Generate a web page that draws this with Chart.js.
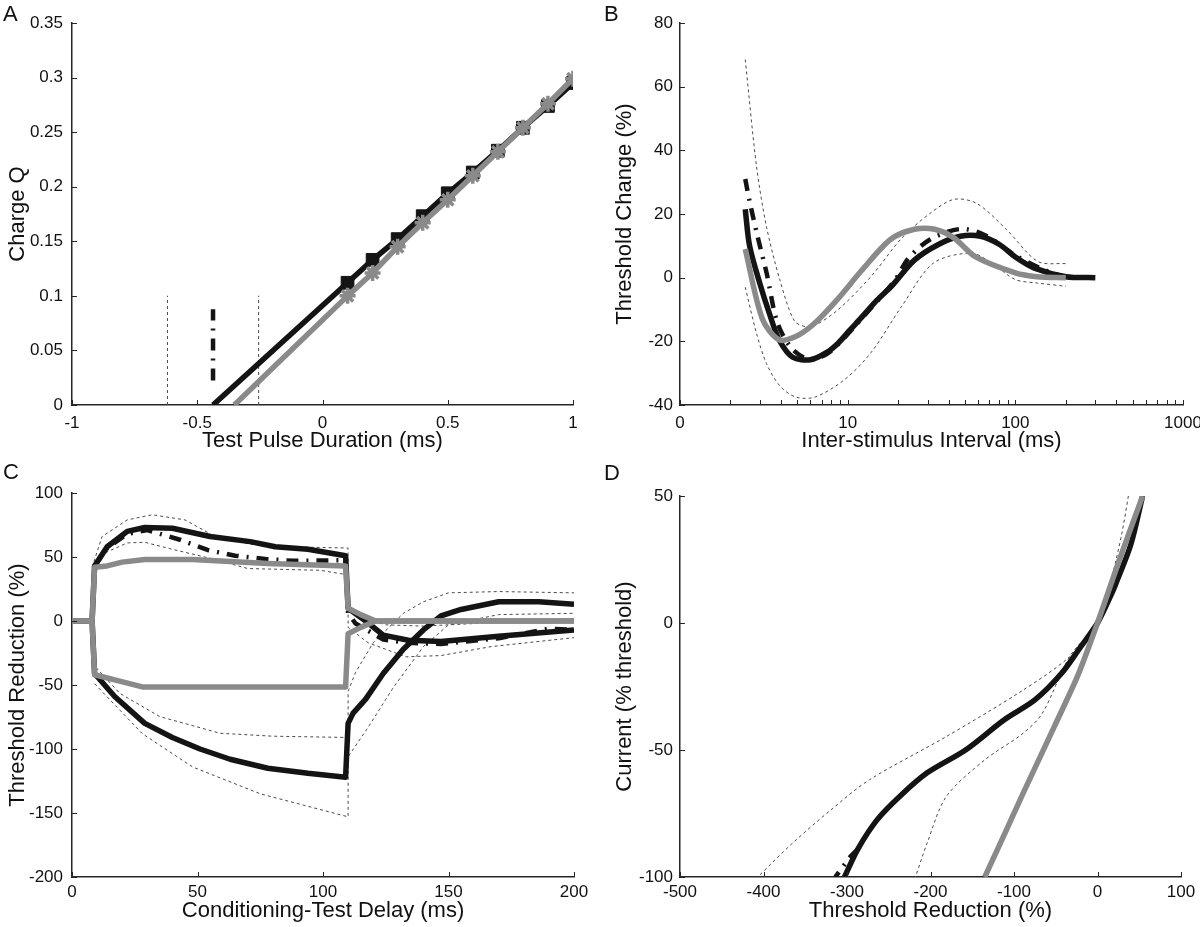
<!DOCTYPE html>
<html lang="en">
<head>
<meta charset="UTF-8">
<title>Threshold tracking</title>
<style>
  html, body { margin: 0; padding: 0; background: #fff; }
  #wrap { position: relative; width: 1200px; height: 927px; overflow: hidden; }
  canvas { position: absolute; }
  #cA { left: 0; top: 0; }
  #cB { left: 600px; top: 0; }
  #cC { left: 0; top: 460px; }
  #cD { left: 600px; top: 460px; }
</style>
<script src="https://cdn.jsdelivr.net/npm/chart.js"></script>
</head>
<body>
<div id="wrap">
  <canvas id="cA" width="600" height="460"></canvas>
  <canvas id="cB" width="600" height="460"></canvas>
  <canvas id="cC" width="600" height="467"></canvas>
  <canvas id="cD" width="600" height="467"></canvas>
</div>
<script>
// ---- A: charge vs test pulse duration ----
const durations = [0.1, 0.2, 0.3, 0.4, 0.5, 0.6, 0.7, 0.8, 0.9, 1.0];
const chargeBlack = [0.112, 0.133, 0.152, 0.173, 0.194, 0.213, 0.233, 0.254, 0.274, 0.295];
const chargeGray = [0.100, 0.121, 0.145, 0.167, 0.188, 0.210, 0.232, 0.254, 0.276, 0.299];
const interceptBlack = -0.437;
const interceptGray = -0.352;
const interceptCI = [-0.619, -0.255];
const interceptCIRange = [0, 0.1];
const interceptMarkRange = [0.0225, 0.0878];
const aTicksX = [-1, -0.5, 0, 0.5, 1];
const aLabelsX = ['-1', '-0.5', '0', '0.5', '1'];
const aTicksY = [0, 0.05, 0.1, 0.15, 0.2, 0.25, 0.3, 0.35];
const aLabelsY = ['0', '0.05', '0.1', '0.15', '0.2', '0.25', '0.3', '0.35'];

// ---- B: recovery cycle ----
const isiBlack = [2.45, 2.6, 3.0, 3.4, 3.9, 4.7, 6.0, 7.5, 8.8, 10.3, 12.1, 15, 18.4, 25, 35, 47, 62, 80, 100, 130, 200, 300];
const recBlack = [21.5, 10, -2, -11, -19.5, -25, -25.8, -23.5, -20.5, -16.5, -12.5, -7, -2.5, 5.5, 10.5, 13, 13, 10.5, 6.5, 3, 0.3, 0];
const isiBlackAlt = [2.45, 2.6, 2.9, 3.3, 3.8, 4.6, 5.8, 7.5, 9.5, 13, 19, 23, 31, 47, 65, 100, 140, 200];
const recBlackAlt = [31, 24, 13, 1, -14, -22, -25.5, -24, -19, -11, -1, 6, 12, 15.3, 13.5, 7, 3, 0];
const isiGray = [2.45, 3.1, 3.9, 4.9, 6.3, 8.8, 12, 18, 25, 33, 43, 58, 100, 135, 200];
const recGray = [9, -13, -19.5, -18.5, -14.5, -6.5, 2, 12, 15.2, 15.2, 12.5, 6.5, 1.5, 0.3, 0];
const isiUpper = [2.45, 2.86, 3.28, 3.94, 4.8, 5.7, 6.4, 8.8, 13.8, 21, 31, 43, 59, 89, 136, 200];
const recUpper = [68.5, 35, 16, -0.7, -13.5, -15.5, -15, -10, 0.4, 12.4, 20.2, 24.6, 23.3, 15, 5.1, 4.4];
const isiLower = [2.45, 2.86, 3.28, 3.94, 4.9, 6.4, 9.6, 13.8, 21, 32.5, 55, 73, 100, 136, 200];
const recLower = [-3, -17.5, -27, -34, -37.5, -37.5, -32, -23.5, -9, 4.6, 7.7, 4.4, -0.6, -1.7, -2.7];
const bTicksX = [1, 2, 3, 4, 5, 6, 7, 8, 9, 10, 20, 30, 40, 50, 60, 70, 80, 90, 100, 200, 300, 400, 500, 600, 700, 800, 900, 1000];
const bLabelsX = ['0', '', '', '', '', '', '', '', '', '10', '', '', '', '', '', '', '', '', '100', '', '', '', '', '', '', '', '', '1000'];
const bTicksY = [-40, -20, 0, 20, 40, 60, 80];

// ---- C: threshold electrotonus ----
const tGrayUp = [0, 8, 9, 14, 20, 29, 48, 78, 109, 110, 115, 121, 200];
const teGrayUp = [0, 0, 42, 43, 46, 48, 48, 45, 43, 10, 5, 0, 0];
const tGrayDn = [0, 8, 9, 19, 28, 109, 110, 115, 121, 200];
const teGrayDn = [0, 0, -42, -47, -51.5, -51.5, -10, -5, 0, 0];
const tBlackUp = [0, 8, 9, 14, 22, 29, 40, 55, 71, 81, 94, 109, 110, 117, 124, 134, 147, 170, 200];
const teBlackUp = [0, 0, 43, 58, 70, 73, 72.5, 66, 62, 58, 56, 51, 10, 0, -11, -15, -16, -12, -7];
const tBlackUpAlt = [9, 14, 22, 30, 43, 54, 65, 77, 88, 109, 110, 113, 124, 134, 147, 170, 190, 200];
const teBlackUpAlt = [43, 57, 68, 71, 63.5, 55.5, 51, 48.5, 47, 47.5, 6, -2, -14.5, -17, -18, -13.5, -6, -7];
const tBlackDn = [0, 8, 9, 17, 29, 40, 51, 63, 78, 94, 109, 110, 112, 117, 124, 132, 140, 147, 155, 170, 186, 200];
const teBlackDn = [0, 0, -41, -59, -80, -91, -100, -108, -115, -119, -122, -80, -72, -61, -41, -22, -7, 4, 9, 15, 15, 13];
const tCiUpHi = [8, 12, 22, 32, 45, 57, 71, 86, 110, 110, 115, 125, 140, 160, 200];
const teCiUpHi = [42, 66, 79, 83, 79, 66, 60, 58, 57, 12, 3, -3, -4, -2, 2];
const tCiUpLo = [9, 14, 22, 29, 40, 55, 70, 99, 110, 110, 118, 133, 147, 167, 200];
const teCiUpLo = [42, 54, 61, 61.5, 56, 49, 41, 39.6, 36, -5, -17, -28, -27, -20, -13];
const tCiDnHi = [8, 19, 35, 59, 80, 110, 110, 113, 120, 132, 140, 150, 170, 200];
const teCiDnHi = [-33, -56.5, -74.7, -87.7, -90, -91, -55, -40, -17, 6, 15, 22, 23, 22];
const tCiDnLo = [9, 28, 48, 75, 110, 110, 118, 128, 140, 150, 170, 200];
const teCiDnLo = [-49, -88, -114, -135, -153, -106, -83, -52, -20, -3, 5, 6];
const cTicksX = [0, 50, 100, 150, 200];
const cTicksY = [-200, -150, -100, -50, 0, 50, 100];

// ---- D: current-threshold relationship ----
const redBlack = [54, 40, 22, 17, 0, -20, -43, -75, -112, -158, -204, -236, -264, -287, -303];
const curBlack = [50, 31, 15.5, 11.6, 0, -9.3, -19.8, -30.3, -38.2, -50, -59, -68, -77.5, -89, -100];
const redBlackAlt = [-287, -296, -314];
const curBlackAlt = [-89, -92, -100];
const redGray = [54, 26, 0, -24, -52, -89, -107, -135];
const curGray = [50, 24.7, 0, -21, -41, -67, -80, -100];
const redCiOuter = [37, 29, 17, 0, -33.5, -89, -181, -273, -319, -365, -407];
const curCiOuter = [50, 35, 18, 0, -13.3, -26.4, -44.7, -61.7, -73.5, -86.6, -100];
const redCiInner = [56, 35, 12, 0, -33.5, -66, -89, -135, -181, -204, -218];
const curCiInner = [50, 25, 10, 0, -13.3, -35.5, -43.4, -53.9, -68.3, -86.6, -100];
const dTicksX = [-500, -400, -300, -200, -100, 0, 100];
const dTicksY = [-100, -50, 0, 50];

const BLACK = '#141414';
const GRAY = '#8a8a8a';
const AXIS = '#262626';
const CI = '#4a4a4a';
const FONT = '"Liberation Sans", Arial, Helvetica, sans-serif';

Chart.defaults.font.family = FONT;
Chart.defaults.color = '#111';

function pts(xs, ys) {
  return xs.map((x, i) => ({ x: x, y: ys[i] }));
}

function line(xs, ys, color, width, dash, tension) {
  return {
    data: pts(xs, ys),
    showLine: true,
    borderColor: color,
    backgroundColor: color,
    borderWidth: width,
    borderDash: dash || [],
    borderJoinStyle: 'round',
    pointRadius: 0,
    tension: tension || 0,
    fill: false
  };
}

function thick(xs, ys, color, tension) { return line(xs, ys, color, 5.5, [], tension); }
function dashed(xs, ys, tension) { return line(xs, ys, CI, 1, [3, 3], tension); }
function dashDot(xs, ys, tension) { return line(xs, ys, BLACK, 4.5, [12, 8, 2, 8], tension); }

function axis(a, horizontal) {
  return {
    type: a.type || 'linear',
    position: horizontal ? 'bottom' : 'left',
    min: a.min,
    max: a.max,
    grid: { display: false, drawTicks: false },
    border: { display: true, color: AXIS, width: 1.5 },
    ticks: {
      autoSkip: false,
      maxRotation: 0,
      padding: a.tickPad,
      color: '#111',
      font: { size: 17 },
      callback: (v, i) => a.labels[i]
    },
    title: {
      display: true,
      text: a.title,
      color: '#111',
      font: { size: 22 },
      padding: horizontal ? { top: 0, bottom: a.titlePad } : { top: a.titlePad, bottom: 0 }
    },
    afterBuildTicks: s => { s.ticks = a.ticks.map(v => ({ value: v })); },
    afterFit: s => {
      if (horizontal) { s.height = a.size; s.paddingLeft = 0; s.paddingRight = 0; }
      else { s.width = a.size; s.paddingTop = 0; s.paddingBottom = 0; }
    }
  };
}

const inwardTicks = {
  id: 'inwardTicks',
  afterDraw(chart) {
    const { ctx, chartArea: ca, scales } = chart;
    const len = 5;
    ctx.save();
    ctx.strokeStyle = AXIS;
    ctx.lineWidth = 1;
    ctx.beginPath();
    scales.x.ticks.forEach(t => {
      const p = Math.round(scales.x.getPixelForValue(t.value)) + 0.5;
      ctx.moveTo(p, ca.bottom);
      ctx.lineTo(p, ca.bottom - len);
    });
    scales.y.ticks.forEach(t => {
      const p = Math.round(scales.y.getPixelForValue(t.value)) + 0.5;
      ctx.moveTo(ca.left, p);
      ctx.lineTo(ca.left + len, p);
    });
    ctx.stroke();
    ctx.restore();
  }
};

const panelLetter = {
  id: 'panelLetter',
  afterDraw(chart, args, opts) {
    const ctx = chart.ctx;
    ctx.save();
    ctx.font = '22px ' + FONT;
    ctx.fillStyle = '#111';
    ctx.textBaseline = 'alphabetic';
    ctx.fillText(opts.text, opts.x, opts.y);
    ctx.restore();
  }
};

function panel(id, letter, pad, xAxis, yAxis, datasets) {
  return new Chart(document.getElementById(id), {
    type: 'scatter',
    data: { datasets: datasets },
    options: {
      responsive: false,
      animation: false,
      devicePixelRatio: 1,
      layout: { padding: pad },
      plugins: {
        legend: { display: false },
        tooltip: { enabled: false },
        panelLetter: letter
      },
      scales: { x: axis(xAxis, true), y: axis(yAxis, false) }
    },
    plugins: [inwardTicks, panelLetter]
  });
}

// Panel A
const aBlack = thick([interceptBlack].concat(durations), [0].concat(chargeBlack), BLACK);
aBlack.pointStyle = 'rect';
aBlack.pointRadius = c => c.dataIndex === 0 ? 0 : 9;
aBlack.pointBorderColor = BLACK;
aBlack.pointBackgroundColor = BLACK;
aBlack.pointBorderWidth = 1;
const aGray = thick([interceptGray].concat(durations), [0].concat(chargeGray), GRAY);
aGray.pointStyle = 'star';
aGray.pointRadius = c => c.dataIndex === 0 ? 0 : 8;
aGray.pointBorderColor = GRAY;
aGray.pointBorderWidth = 3.5;
panel('cA', { text: 'A', x: 3, y: 21 }, { left: 0, right: 27, top: 23, bottom: 0 },
  { min: -1, max: 1, ticks: aTicksX, labels: aLabelsX, title: 'Test Pulse Duration (ms)', size: 55, tickPad: 8, titlePad: 6 },
  { min: 0, max: 0.35, ticks: aTicksY, labels: aLabelsY, title: 'Charge Q', size: 72, tickPad: 9, titlePad: 5 },
  [
    aGray,
    aBlack,
    dashDot([interceptBlack, interceptBlack], interceptMarkRange),
    dashed([interceptCI[0], interceptCI[0]], interceptCIRange),
    dashed([interceptCI[1], interceptCI[1]], interceptCIRange)
  ]);

// Panel B
panel('cB', { text: 'B', x: 4, y: 21 }, { left: 0, right: 17, top: 23, bottom: 0 },
  { type: 'logarithmic', min: 1, max: 1000, ticks: bTicksX, labels: bLabelsX, title: 'Inter-stimulus Interval (ms)', size: 55, tickPad: 8, titlePad: 6 },
  { min: -40, max: 80, ticks: bTicksY, labels: bTicksY.map(String), title: 'Threshold Change (%)', size: 80, tickPad: 7, titlePad: 12 },
  [
    thick(isiGray, recGray, GRAY, 0.3),
    dashDot(isiBlackAlt, recBlackAlt, 0.3),
    thick(isiBlack, recBlack, BLACK, 0.3),
    dashed(isiUpper, recUpper, 0.3),
    dashed(isiLower, recLower, 0.3)
  ]);

// Panel C
panel('cC', { text: 'C', x: 3, y: 19 }, { left: 0, right: 26, top: 33, bottom: 0 },
  { min: 0, max: 200, ticks: cTicksX, labels: cTicksX.map(String), title: 'Conditioning-Test Delay (ms)', size: 50, tickPad: 5, titlePad: 3 },
  { min: -200, max: 100, ticks: cTicksY, labels: cTicksY.map(String), title: 'Threshold Reduction (%)', size: 72, tickPad: 9, titlePad: 5 },
  [
    thick(tGrayUp, teGrayUp, GRAY),
    thick(tGrayDn, teGrayDn, GRAY),
    dashDot(tBlackUpAlt, teBlackUpAlt),
    thick(tBlackUp, teBlackUp, BLACK),
    thick(tBlackDn, teBlackDn, BLACK),
    dashed(tCiUpHi, teCiUpHi),
    dashed(tCiUpLo, teCiUpLo),
    dashed(tCiDnHi, teCiDnHi),
    dashed(tCiDnLo, teCiDnLo)
  ]);

// Panel D
panel('cD', { text: 'D', x: 4, y: 20 }, { left: 0, right: 19, top: 36, bottom: 0 },
  { min: -500, max: 100, ticks: dTicksX, labels: dTicksX.map(String), title: 'Threshold Reduction (%)', size: 50, tickPad: 5, titlePad: 3 },
  { min: -100, max: 50, ticks: dTicksY, labels: dTicksY.map(String), title: 'Current (% threshold)', size: 80, tickPad: 7, titlePad: 12 },
  [
    thick(redGray, curGray, GRAY, 0.2),
    dashDot(redBlackAlt, curBlackAlt),
    thick(redBlack, curBlack, BLACK, 0.3),
    dashed(redCiOuter, curCiOuter, 0.3),
    dashed(redCiInner, curCiInner, 0.3)
  ]);
</script>
</body>
</html>
